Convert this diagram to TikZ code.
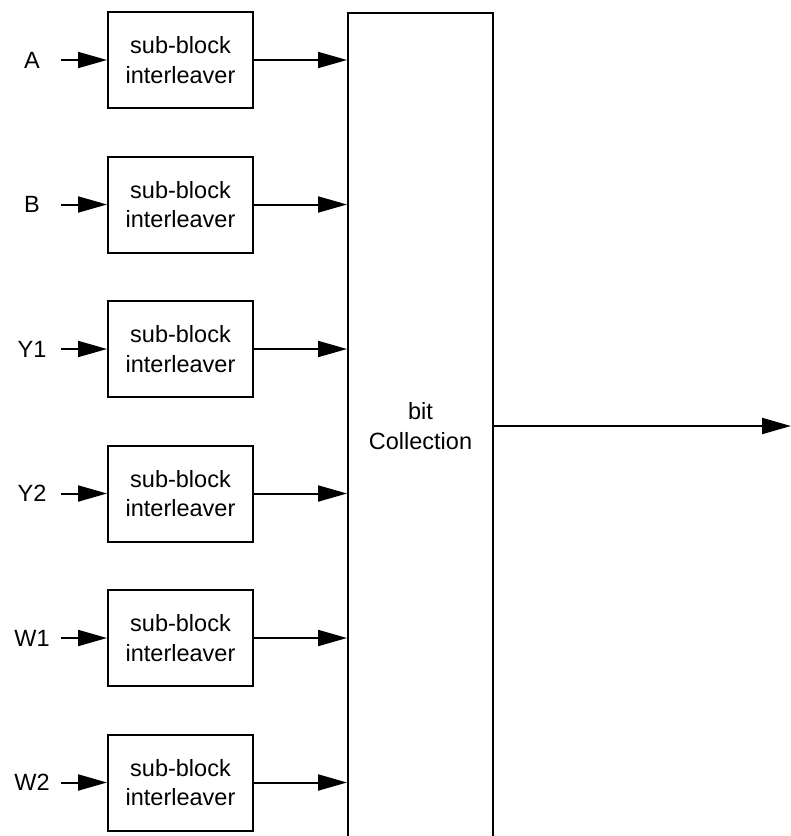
\documentclass[tikz,border=0pt]{standalone}
\usepackage{fontspec}
\setmainfont{Liberation Sans}
\usetikzlibrary{arrows.meta}
\usetikzlibrary{positioning}

\begin{document}
\begin{tikzpicture}[x=1pt, y=-1pt, line width=2pt,
  blocco/.style={draw, minimum width=145pt, minimum height=96pt, align=center,
    inner sep=0pt, font=\fontsize{23.5}{29.5}\selectfont},
  freccia/.style={-{Triangle[length=29pt,width=16pt]}},
  ingresso/.style={minimum width=56pt, inner sep=0pt, font=\fontsize{23.5}{29.5}\selectfont}]
  \useasboundingbox (0,0) rectangle (791,836);

  % Blocco di raccolta
  \node[blocco, minimum height=826pt] (raccolta) at (420.5,426) {bit\\Collection};
  \coordinate (uscita) at (791,426);
  \draw[freccia] (raccolta.east) -- (uscita);

  % Sotto-blocchi e ingressi
  \foreach \lab [count=\i] in {A,B,Y1,Y2,W1,W2} {
    \node[blocco] (sbi\i) at (180.5,{60+144.5*(\i-1)}) {sub-block\\interleaver};
    \node[ingresso, left=46pt of sbi\i] (in\i) {\lab};
    \draw[freccia] (in\i.east) -- (sbi\i.west);
    \draw[freccia] (sbi\i.east) -- (sbi\i.east -| raccolta.west);
  }
\end{tikzpicture}
\end{document}
